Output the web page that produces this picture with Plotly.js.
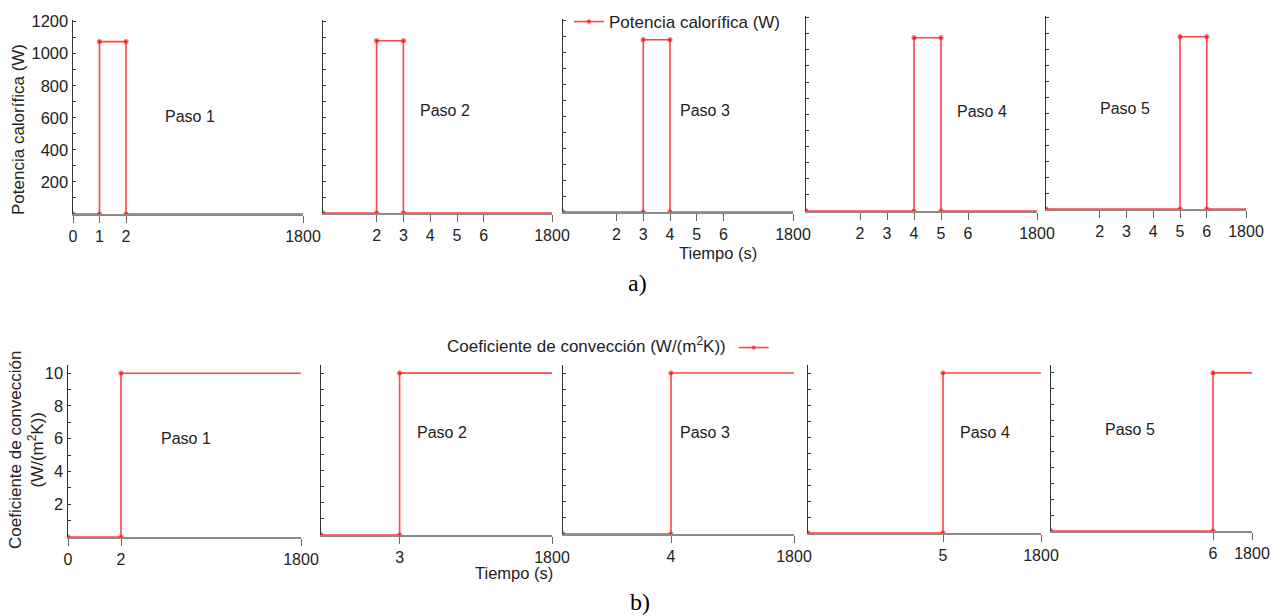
<!DOCTYPE html>
<html>
<head>
<meta charset="utf-8">
<script src="https://cdn.plot.ly/plotly-3.0.1.min.js"></script>
<style>html,body{margin:0;padding:0;background:#fff;}#chart{width:1283px;height:616px;}</style>
</head>
<body>
<div id="chart"></div>
<script>
// ---------- data ----------
const pasoLabels   = ['Paso 1', 'Paso 2', 'Paso 3', 'Paso 4', 'Paso 5'];
// a) heating power pulse per step (s, W)
const pulseStart   = [1, 2, 3, 4, 5];
const pulseEnd     = [2, 3, 4, 5, 6];
const heatPower    = [1075, 1080, 1080, 1075, 1080];
// b) convection coefficient switch-on time per step (s, W/(m2K))
const convStart    = [2, 3, 4, 5, 6];
const convValue    = [10, 10, 10, 10, 10];
const tEnd         = 1800;
// tick labels
const topTickTimes = [[0, 1, 2, 1800], [2, 3, 4, 5, 6, 1800], [2, 3, 4, 5, 6, 1800], [2, 3, 4, 5, 6, 1800], [2, 3, 4, 5, 6, 1800]];
const botTickTimes = [[0, 2, 1800], [3, 1800], [4, 1800], [5, 1800], [6, 1800]];
const powerTicks   = [200, 400, 600, 800, 1000, 1200];
const convTicks    = [2, 4, 6, 8, 10];

// ---------- layout geometry (pixels) ----------
const W = 1283, H = 616;
const px = x => x / W, py = y => 1 - y / H;
// x0: pixel of t=0, u: pixels per second on the expanded part, x1: pixel of t=1800, b: baseline, top: axis top
const topGeo = [
  {x0: 73,   u: 26.5, x1: 303,  b: 214, top: 20},
  {x0: 323,  u: 26.8, x1: 552,  b: 213, top: 20},
  {x0: 563,  u: 26.75,x1: 793,  b: 212, top: 19},
  {x0: 806,  u: 27,   x1: 1037, b: 211, top: 16},
  {x0: 1046, u: 26.8, x1: 1246, b: 209, top: 16}
];
const botGeo = [
  {x0: 68,   u: 26.5, x1: 301,  b: 537, top: 365},
  {x0: 321,  u: 26.2, x1: 552,  b: 535, top: 365},
  {x0: 563,  u: 27,   x1: 794,  b: 534, top: 365},
  {x0: 808,  u: 27,   x1: 1041, b: 533, top: 365},
  {x0: 1051, u: 27,   x1: 1252, b: 531, top: 365}
];
const pasoTopPos = [[190,116],[445,110],[705,110],[982,111],[1125,108]];
const pasoBotPos = [[186,438],[442,432],[705,432],[985,432],[1130,429]];

// broken time axis: first seconds expanded, 1800 s placed at the axis end
const brk = g => (g.x1 - g.x0) / g.u;
const mapT = (t, g) => (t > 6 ? brk(g) : t);

const RED = 'rgb(255,70,70)';
const FONT = 'Liberation Sans, Arial, sans-serif';
const TXT = '#222';

const traces = [];
const layout = {
  width: W, height: H,
  margin: {l: 0, r: 0, t: 0, b: 0},
  paper_bgcolor: '#fff', plot_bgcolor: 'rgba(0,0,0,0)',
  font: {family: FONT, size: 17, color: TXT},
  showlegend: true,
  legend: {x: px(569), y: py(22), xanchor: 'left', yanchor: 'middle', bgcolor: 'rgba(0,0,0,0)', font: {size: 17, color: TXT}},
  legend2: {x: px(445), y: py(348), xanchor: 'left', yanchor: 'middle', bgcolor: 'rgba(0,0,0,0)', font: {size: 17, color: TXT},
            title: {text: 'Coeficiente de convección (W/(m<sup>2</sup>K))', side: 'left', font: {size: 17, color: TXT}}},
  annotations: [],
  shapes: []
};

function addAxes(idx, g, tickTimes, yRange, yTickVals, yMinor, showYLabels) {
  const xa = 'xaxis' + (idx === 1 ? '' : idx), ya = 'yaxis' + (idx === 1 ? '' : idx);
  const xr = 'x' + (idx === 1 ? '' : idx), yr = 'y' + (idx === 1 ? '' : idx);
  layout[xa] = {
    domain: [px(g.x0), px(g.x1)], range: [0, brk(g)], anchor: yr,
    showgrid: false, zeroline: false, showline: true, linecolor: '#8a8a8a', linewidth: 2,
    tickmode: 'array', tickvals: tickTimes.map(t => mapT(t, g)), ticktext: tickTimes.map(String),
    ticks: 'outside', ticklen: 7, tickwidth: 1, tickcolor: '#666',
    tickfont: {size: 16, color: TXT, family: FONT}, fixedrange: true, automargin: false
  };
  layout[ya] = {
    domain: [py(g.b), py(g.top)], range: yRange, anchor: xr,
    showgrid: false, zeroline: false, showline: true, linecolor: '#333', linewidth: 1.5,
    tickmode: 'array', tickvals: yTickVals, ticktext: yTickVals.map(String),
    showticklabels: showYLabels,
    ticks: 'inside', ticklen: 3, tickwidth: 1, tickcolor: '#333',
    minor: {dtick: yMinor, ticks: 'inside', ticklen: 3, tickcolor: '#333', tickwidth: 1},
    tickfont: {size: 16.5, color: TXT, family: FONT}, fixedrange: true, automargin: false
  };
  return [xr, yr];
}

function note(x, y, text, size, extra) {
  return Object.assign({xref: 'paper', yref: 'paper', x: px(x), y: py(y), xanchor: 'center', yanchor: 'middle',
    text: text, showarrow: false, font: {size: size, color: TXT, family: FONT}}, extra || {});
}

// ---------- a) power panels ----------
for (let i = 0; i < 5; i++) {
  const g = topGeo[i];
  const yTicks = i === 0 ? powerTicks : [100,200,300,400,500,600,700,800,900,1000,1100,1200];
  const [xr, yr] = addAxes(i + 1, g, topTickTimes[i], [0, 1210], yTicks, 100, i === 0);
  const s = pulseStart[i], e = pulseEnd[i], P = heatPower[i];
  const t = [0, s, s, e, e, tEnd];
  traces.push({
    type: 'scatter', mode: 'lines+markers', xaxis: xr, yaxis: yr,
    x: t.map(v => mapT(v, g)), y: [0, 0, P, P, 0, 0],
    line: {color: RED, width: 1.6},
    marker: {color: 'red', size: [4.5, 4.5, 4.5, 4.5, 4.5, 0], symbol: 'circle'},
    name: 'Potencia calorífica (W)', showlegend: i === 0, legend: 'legend', hoverinfo: 'skip'
  });
  layout.annotations.push(note(pasoTopPos[i][0], pasoTopPos[i][1], pasoLabels[i], 16));
}

// ---------- b) convection panels ----------
for (let i = 0; i < 5; i++) {
  const g = botGeo[i];
  const yTicks = i === 0 ? convTicks : [1,2,3,4,5,6,7,8,9,10];
  const [xr, yr] = addAxes(i + 6, g, botTickTimes[i], [0, 10.5], yTicks, 1, i === 0);
  const s = convStart[i], h = convValue[i];
  const t = [0, s, s, tEnd];
  traces.push({
    type: 'scatter', mode: 'lines+markers', xaxis: xr, yaxis: yr,
    x: t.map(v => mapT(v, g)), y: [0, 0, h, h],
    line: {color: RED, width: 1.6},
    marker: {color: 'red', size: [4.5, 4.5, 4.5, 0], symbol: 'circle'},
    name: '', showlegend: i === 0, legend: 'legend2', hoverinfo: 'skip'
  });
  layout.annotations.push(note(pasoBotPos[i][0], pasoBotPos[i][1], pasoLabels[i], 16));
}

// ---------- titles ----------
layout.annotations.push(
  note(18, 130, 'Potencia calorífica (W)', 17, {textangle: -90}),
  note(26, 450, 'Coeficiente de convección<br>(W/(m<sup>2</sup>K))', 17, {textangle: -90}),
  note(718, 253, 'Tiempo (s)', 16.5),
  note(514, 573, 'Tiempo (s)', 16.5),
  note(637, 283, 'a)', 24, {font: {size: 24, color: '#000', family: 'Liberation Serif, Times New Roman, serif'}}),
  note(640, 602, 'b)', 24, {font: {size: 24, color: '#000', family: 'Liberation Serif, Times New Roman, serif'}})
);

Plotly.newPlot('chart', traces, layout, {displayModeBar: false, staticPlot: true});
</script>
</body>
</html>
